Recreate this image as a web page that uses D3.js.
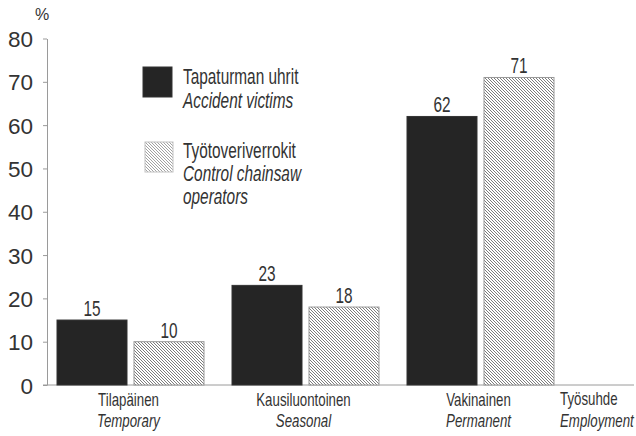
<!DOCTYPE html>
<html><head><meta charset="utf-8">
<script src="https://cdn.jsdelivr.net/npm/d3@7"></script>
<style>
body{margin:0;background:#fff;}
svg{display:block;}
.narrow{font-family:"Liberation Sans",Arial,sans-serif;}
</style></head>
<body>
<svg id="c" width="636" height="436"></svg>
<script>
const categories = ["Tilapäinen", "Kausiluontoinen", "Vakinainen"];
const categoriesEn = ["Temporary", "Seasonal", "Permanent"];
const seriesKeys = ["victims", "controls"];
const seriesFi = ["Tapaturman uhrit", "Työtoveriverrokit"];
const seriesEn = [["Accident victims"], ["Control chainsaw", "operators"]];
const victims = [15, 23, 62];
const controls = [10, 18, 71];
const yTicks = [0, 10, 20, 30, 40, 50, 60, 70, 80];
const axisTitleFi = "Työsuhde";
const axisTitleEn = "Employment";
const unitLabel = "%";

const svg = d3.select("#c");
const defs = svg.append("defs");
const pat = defs.append("pattern").attr("id", "hatch")
  .attr("patternUnits", "userSpaceOnUse").attr("width", 3).attr("height", 3);
pat.append("rect").attr("width", 3).attr("height", 3).attr("fill", "#fff");
pat.append("path").attr("d", "M-1,-1 L4,4 M-1,2 L1,4 M2,-1 L4,1")
  .attr("stroke", "#5a5a5a").attr("stroke-width", 0.8).attr("fill", "none");

const y = d3.scaleLinear().domain([0, 80]).range([385, 38.5]);
const x0 = d3.scaleBand().domain(categories).range([43, 568]).paddingInner(0.16).paddingOuter(0.08);
const x1 = d3.scaleBand().domain(seriesKeys).range([0, x0.bandwidth()]).paddingInner(7 / 77);

const data = categories.map((c, i) => ({cat: c, en: categoriesEn[i], values: [
  {key: "victims", v: victims[i]}, {key: "controls", v: controls[i]}]}));

const condense = 0.7;
function narrowText(sel, xPos, yPos, txt, size, italic, anchor) {
  return sel.append("text").attr("class", "narrow")
    .attr("transform", `translate(${xPos},${yPos}) scale(${condense},1)`)
    .attr("text-anchor", anchor || "middle").attr("font-size", size).attr("fill", "#333")
    .attr("font-style", italic ? "italic" : "normal").text(txt);
}

// y axis
const yAxis = d3.axisLeft(y).tickValues(yTicks).tickSize(4).tickPadding(10).tickSizeOuter(0);
const ga = svg.append("g").attr("transform", "translate(47,0)").call(yAxis);
ga.select(".domain").attr("stroke", "#9a9a9a");
ga.selectAll(".tick line").attr("stroke", "#9a9a9a");
ga.selectAll(".tick text").attr("font-family", "'Liberation Sans',Arial,sans-serif")
  .attr("font-size", 22.5).attr("fill", "#333").attr("dy", "0.36em");

// baseline
svg.append("line").attr("x1", 43).attr("x2", 634).attr("y1", y(0)).attr("y2", y(0))
  .attr("stroke", "#9a9a9a").attr("stroke-width", 1);

svg.append("text").attr("x", 42).attr("y", 20).attr("text-anchor", "middle")
  .attr("font-family", "'Liberation Sans',Arial,sans-serif").attr("font-size", 16).attr("fill", "#333").text(unitLabel);

// bars
const groups = svg.selectAll("g.grp").data(data).join("g").attr("class", "grp")
  .attr("transform", d => `translate(${x0(d.cat)},0)`);
groups.selectAll("rect").data(d => d.values).join("rect")
  .attr("x", d => x1(d.key)).attr("width", x1.bandwidth())
  .attr("y", d => y(d.v)).attr("height", d => y(0) - y(d.v))
  .attr("fill", d => d.key === "victims" ? "#252525" : "url(#hatch)")
  .attr("stroke", d => d.key === "victims" ? "#333" : "#999")
  .attr("stroke-width", 1);
groups.each(function(d) {
  const g = d3.select(this);
  d.values.forEach(v => narrowText(g, x1(v.key) + x1.bandwidth() / 2, y(v.v) - 4, v.v, 22, false));
});

// category labels
data.forEach(d => {
  const cx = x0(d.cat) + x0.bandwidth() / 2 - 2;
  narrowText(svg, cx, 406, d.cat, 19, false);
  narrowText(svg, cx, 427, d.en, 19, true);
});
narrowText(svg, 560, 405, axisTitleFi, 19, false, "start");
narrowText(svg, 560, 427, axisTitleEn, 19, true, "start");

// legend
const lg = svg.append("g");
lg.append("rect").attr("x", 143).attr("y", 67).attr("width", 29).attr("height", 30)
  .attr("fill", "#252525").attr("stroke", "#333");
lg.append("rect").attr("x", 145).attr("y", 142).attr("width", 28).attr("height", 30)
  .attr("fill", "url(#hatch)").attr("stroke", "#aaa").attr("opacity", 0.7);
narrowText(lg, 183, 84, seriesFi[0], 22, false, "start");
narrowText(lg, 183, 108, seriesEn[0][0], 22, true, "start");
narrowText(lg, 183, 158, seriesFi[1], 22, false, "start");
seriesEn[1].forEach((s, i) => narrowText(lg, 183, 181 + i * 23, s, 22, true, "start"));
</script>
</body></html>
